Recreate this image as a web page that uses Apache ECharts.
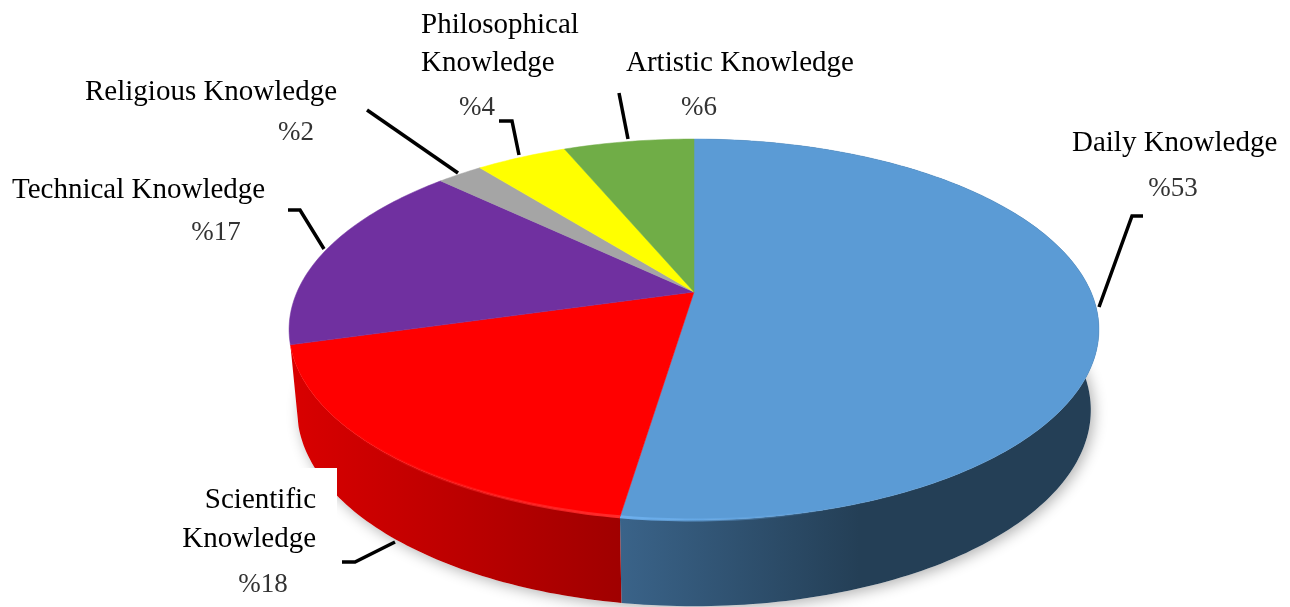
<!DOCTYPE html>
<html>
<head>
<meta charset="utf-8">
<title>Knowledge types</title>
<script src="https://cdn.jsdelivr.net/npm/echarts@6/dist/echarts.min.js"></script>
<style>
    html, body { margin: 0; padding: 0; background: #fff; }
    #contain { width: 1290px; height: 607px; }
</style>
</head>
<body>
<div id="contain"></div>
<script>
// data
var categories = ['Daily Knowledge', 'Scientific Knowledge', 'Technical Knowledge', 'Religious Knowledge', 'Philosophical Knowledge', 'Artistic Knowledge'];
var shares = [52.4, 18.2, 16.5, 2.2, 4.4, 6.3];
var percentLabels = ['%53', '%18', '%17', '%2', '%4', '%6'];

// slice colours
var faceColors = ['#5b9bd5', '#ff0000', '#7030a0', '#a5a5a5', '#ffff00', '#70ad47'];

// perspective of the disc: unit circle -> screen
var cx = 694, cy = 292, a = 397, b = 183.1, k = -0.1969;
var lowerScaleX = 0.98, lowerScaleY = 1.03, lowerDrop = 79.4;

function rimPoint(deg, lower) {
    var t = deg * Math.PI / 180;
    var x = Math.sin(t), y = -Math.cos(t);
    var w = 1 + k * y;
    if (lower) {
        return [cx + lowerScaleX * a * x / w, cy + lowerDrop + lowerScaleY * b * y / w];
    }
    return [cx + a * x / w, cy + b * y / w];
}

function rimPoints(from, to, lower) {
    var pts = [];
    for (var d = from; d < to; d += 1) {
        pts.push(rimPoint(d, lower));
    }
    pts.push(rimPoint(to, lower));
    return pts;
}

function sliceAngles(index) {
    var sum = 0, total = 0;
    for (var i = 0; i < shares.length; i++) {
        if (i < index) sum += shares[i];
        total += shares[i];
    }
    return [sum / total * 360, (sum + shares[index]) / total * 360];
}

function wallFill(index) {
    if (index == 0) {
        return new echarts.graphic.LinearGradient(620, 0, 1099, 0, [
            { offset: 0, color: '#3a6389' },
            { offset: 0.5, color: '#243f56' },
            { offset: 1, color: '#243f56' }
        ], true);
    }
    return new echarts.graphic.LinearGradient(296, 0, 620, 0, [
        { offset: 0, color: '#d80000' },
        { offset: 1, color: '#a00000' }
    ], true);
}

// only the two front slices show a wall
function renderWall(params, api) {
    var i = params.dataIndex;
    var ang = sliceAngles(i);
    var children = [];
    if (i == 0) {
        // soft shadow under the whole disc
        children.push({
            type: 'polygon',
            shape: { points: rimPoints(0, 360, true) },
            style: { fill: '#fff', shadowBlur: 14, shadowColor: 'rgba(0,0,0,0.3)', shadowOffsetX: 3, shadowOffsetY: 3 }
        });
    }
    if (i < 2) {
        var top = rimPoints(ang[0], ang[1], false);
        var low = rimPoints(ang[0], ang[1], true).reverse();
        children.push({
            type: 'polygon',
            shape: { points: top.concat(low) },
            style: { fill: wallFill(i) }
        });
    }
    return { type: 'group', children: children };
}

function renderFace(params, api) {
    var i = params.dataIndex;
    var ang = sliceAngles(i);
    var rim = rimPoints(ang[0], ang[1], false);
    var children = [{
        type: 'polygon',
        shape: { points: [[cx, cy]].concat(rim) },
        style: { fill: faceColors[i], stroke: faceColors[i], lineWidth: 0.5 }
    }];
    // light bevel along the front of the rim, fading out sideways
    if (i == 0) {
        children.push({
            type: 'polyline',
            shape: { points: rimPoints(150, ang[1], false) },
            style: {
                fill: null,
                lineWidth: 3,
                stroke: new echarts.graphic.LinearGradient(620, 0, 820, 0, [
                    { offset: 0, color: 'rgba(109,176,238,1)' },
                    { offset: 1, color: 'rgba(109,176,238,0)' }
                ], true)
            }
        });
    }
    if (i == 1) {
        children.push({
            type: 'polyline',
            shape: { points: rimPoints(ang[0], 235, false) },
            style: {
                fill: null,
                lineWidth: 3,
                stroke: new echarts.graphic.LinearGradient(340, 0, 620, 0, [
                    { offset: 0, color: 'rgba(255,42,42,0)' },
                    { offset: 1, color: 'rgba(255,42,42,1)' }
                ], true)
            }
        });
    }
    return { type: 'group', children: children };
}

// leader lines and label spots, same order as categories
var leaderLines = [
    [[1099, 307], [1132, 216], [1143, 216]],
    [[395, 542], [355, 562], [342, 562]],
    [[324, 249], [300, 210], [288, 210]],
    [[458, 173], [367, 110]],
    [[519, 155], [512, 121], [499, 121]],
    [[628, 139], [619, 93]]
];
var nameSpots = [
    [{ x: 1072, y: 143, align: 'left', text: 'Daily Knowledge' }],
    [{ x: 316, y: 500, align: 'right', text: 'Scientific' }, { x: 316, y: 539, align: 'right', text: 'Knowledge' }],
    [{ x: 12, y: 190, align: 'left', text: 'Technical Knowledge' }],
    [{ x: 85, y: 92, align: 'left', text: 'Religious Knowledge' }],
    [{ x: 421, y: 25, align: 'left', text: 'Philosophical' }, { x: 421, y: 63, align: 'left', text: 'Knowledge' }],
    [{ x: 626, y: 63, align: 'left', text: 'Artistic Knowledge' }]
];
var percentSpots = [[1173, 189], [263, 585], [216, 233], [296, 133], [477, 108], [699, 108]];

var elements = [{
    // white box that sits over the disc behind the Scientific label
    type: 'rect',
    z: 100,
    shape: { x: 175, y: 468, width: 162, height: 94 },
    style: { fill: '#fff' }
}];

for (var n = 0; n < categories.length; n++) {
    elements.push({
        type: 'polyline',
        z: 101,
        shape: { points: leaderLines[n] },
        style: { fill: null, stroke: '#000', lineWidth: 3.5 }
    });
    for (var m = 0; m < nameSpots[n].length; m++) {
        var spot = nameSpots[n][m];
        elements.push({
            type: 'text',
            z: 102,
            style: { text: spot.text, x: spot.x, y: spot.y, align: spot.align, verticalAlign: 'middle', fontFamily: 'Liberation Serif', fontSize: 29, fill: '#000' }
        });
    }
    elements.push({
        type: 'text',
        z: 102,
        style: { text: percentLabels[n], x: percentSpots[n][0], y: percentSpots[n][1], align: 'center', verticalAlign: 'middle', fontFamily: 'Liberation Serif', fontSize: 27, fill: '#333' }
    });
}

var option = {
    animation: false,
    backgroundColor: '#fff',
    series: [{
        name: 'wall',
        type: 'custom',
        coordinateSystem: 'none',
        silent: true,
        z: 1,
        renderItem: renderWall,
        data: shares
    }, {
        name: 'face',
        type: 'custom',
        coordinateSystem: 'none',
        silent: true,
        z: 2,
        renderItem: renderFace,
        data: shares
    }],
    graphic: { elements: elements }
};

var myChart = echarts.init(document.getElementById('contain'));
myChart.setOption(option);
</script>
</body>
</html>
